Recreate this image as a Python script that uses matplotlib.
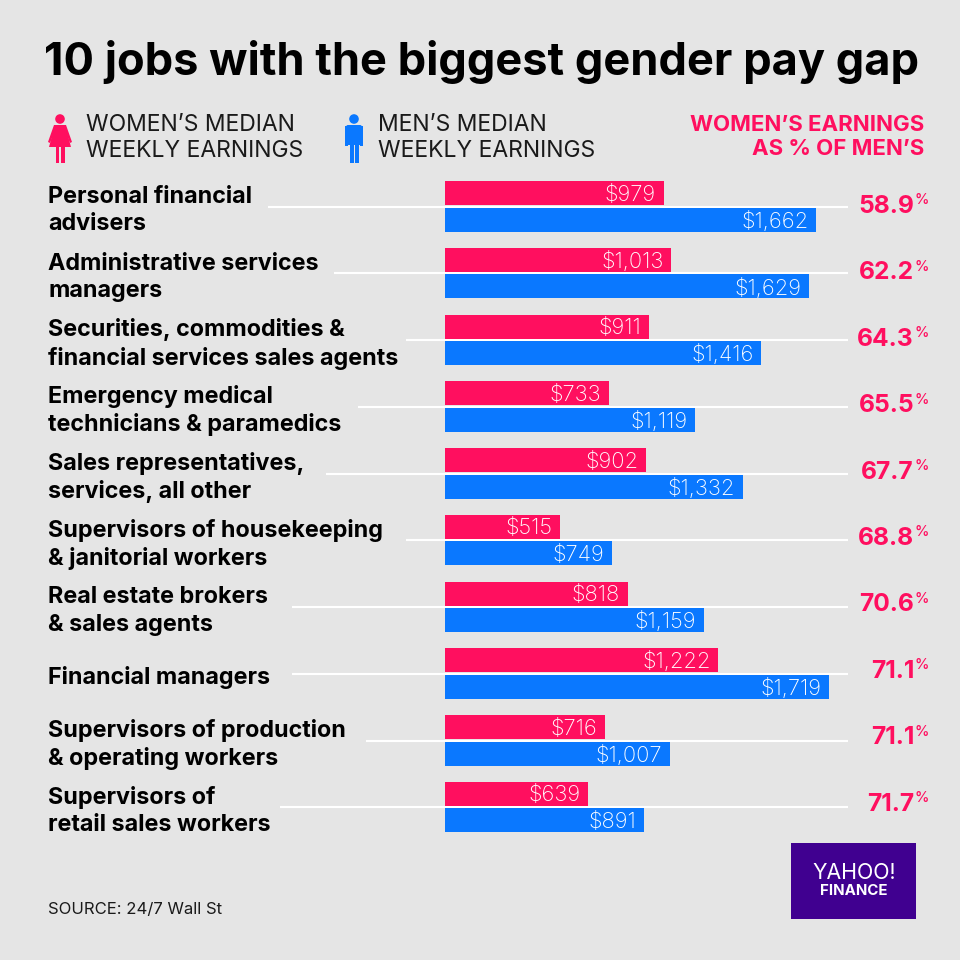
import matplotlib
matplotlib.use("Agg")
import matplotlib.pyplot as plt
from matplotlib.patches import Rectangle, Circle, Polygon, FancyBboxPatch

plt.rcParams['font.family'] = ['Inter', 'DejaVu Sans']

jobs = ["Personal financial\nadvisers", "Administrative services\nmanagers",
        "Securities, commodities &\nfinancial services sales agents",
        "Emergency medical\ntechnicians & paramedics",
        "Sales representatives,\nservices, all other",
        "Supervisors of housekeeping\n& janitorial workers",
        "Real estate brokers\n& sales agents", "Financial managers",
        "Supervisors of production\n& operating workers",
        "Supervisors of\nretail sales workers"]
women = [979, 1013, 911, 733, 902, 515, 818, 1222, 716, 639]
men = [1662, 1629, 1416, 1119, 1332, 749, 1159, 1719, 1007, 891]
pct = ["58.9", "62.2", "64.3", "65.5", "67.7", "68.8", "70.6", "71.1", "71.1", "71.7"]
line_start = [268, 334, 406, 358, 326, 406, 292, 292, 366, 280]

PINK = "#FF0F5F"
BLUE = "#0A78FF"
BG = "#E5E5E5"
DARK = "#1A1A1A"

fig = plt.figure(figsize=(9.6, 9.6), dpi=100, facecolor=BG)

# page layer in pixels
pg = fig.add_axes([0, 0, 1, 1])
pg.set_xlim(0, 960)
pg.set_ylim(960, 0)
pg.axis("off")

pg.text(482, 62, "10 jobs with the biggest gender pay gap", ha="center", va="center",
        fontsize=32.5, fontweight="bold", color="black")

# legend
pg.text(86, 138, "WOMEN\u2019S MEDIAN\nWEEKLY EARNINGS", ha="left", va="center", fontsize=16.5,
        fontweight="normal", color=DARK, linespacing=1.2)
pg.text(378, 138, "MEN\u2019S MEDIAN\nWEEKLY EARNINGS", ha="left", va="center", fontsize=16.5,
        fontweight="normal", color=DARK, linespacing=1.2)
pg.text(924, 137, "WOMEN\u2019S EARNINGS\nAS % OF MEN\u2019S", ha="right", va="center", fontsize=16,
        fontweight="bold", color=PINK, linespacing=1.25, multialignment="right")

# woman icon
pg.add_patch(Circle((60, 119), 4.8, color=PINK, lw=0))
pg.add_patch(Polygon([(55, 125), (65, 125), (71, 147), (49, 147)], color=PINK, lw=0))
pg.add_patch(Polygon([(54, 125), (57, 125), (50, 143), (48, 142)], color=PINK, lw=0))
pg.add_patch(Polygon([(63, 125), (66, 125), (72, 142), (70, 143)], color=PINK, lw=0))
pg.add_patch(Rectangle((55.5, 147), 3.6, 16, color=PINK, lw=0))
pg.add_patch(Rectangle((60.9, 147), 3.6, 16, color=PINK, lw=0))

# man icon
pg.add_patch(Circle((354, 119), 4.8, color=BLUE, lw=0))
pg.add_patch(FancyBboxPatch((346, 125), 16, 20, boxstyle="round,pad=0,rounding_size=2", color=BLUE, lw=0))
pg.add_patch(Rectangle((345, 126), 3, 20, color=BLUE, lw=0))
pg.add_patch(Rectangle((360, 126), 3, 20, color=BLUE, lw=0))
pg.add_patch(Rectangle((349.5, 144), 4, 19, color=BLUE, lw=0))
pg.add_patch(Rectangle((354.5, 144), 4, 19, color=BLUE, lw=0))

# row labels, leader lines and percentages
row_y = [206.5 + 66.75 * i for i in range(len(jobs))]
for i, job in enumerate(jobs):
    y = row_y[i]
    pg.text(48, y + 4, job, ha="left", va="center", fontsize=16.8, fontweight="bold",
            color="black", linespacing=1.3)
    pg.plot([line_start[i], 848], [y, y], color="white", lw=1.5, solid_capstyle="butt")
    y_pct = 206.5 + 66.4 * i
    pg.text(914, y_pct, pct[i], ha="right", va="center", fontsize=17.7, fontweight="bold", color=PINK)
    pg.text(914, y_pct - 6, "%", ha="left", va="center", fontsize=10.5, fontweight="medium", color=PINK)

# bars, value axis in dollars
ax = fig.add_axes([445 / 960, 1 - 840.5 / 960, 384 / 960, 667.5 / 960])
ax.patch.set_alpha(0)
ax.axis("off")
ax.set_xlim(0, 1719)
ax.set_ylim(9.5, -0.5)
for i in range(len(jobs)):
    ax.barh(i - 0.2, women[i], height=0.36, color=PINK)
    ax.barh(i + 0.2, men[i], height=0.36, color=BLUE)
    ax.annotate("${:,}".format(women[i]), (women[i], i - 0.2), xytext=(-5.5, -1.2), textcoords="offset points",
                ha="right", va="center", color="white", fontsize=15.8, fontweight="light")
    ax.annotate("${:,}".format(men[i]), (men[i], i + 0.2), xytext=(-5.5, -1.2), textcoords="offset points",
                ha="right", va="center", color="white", fontsize=15.8, fontweight="light")

# footer
pg.text(48, 909, "SOURCE: 24/7 Wall St", ha="left", va="center", fontsize=12, color=DARK)
pg.add_patch(Rectangle((791, 843), 125, 76, color="#400090", lw=0))
pg.text(854, 873, "YAHOO!", ha="center", va="center", fontsize=15.3, fontweight="normal", color="white")
pg.text(853.5, 891, "FINANCE", ha="center", va="center", fontsize=10.8, fontweight="bold", color="white")

fig.savefig("out.png", dpi=100, facecolor=BG)
